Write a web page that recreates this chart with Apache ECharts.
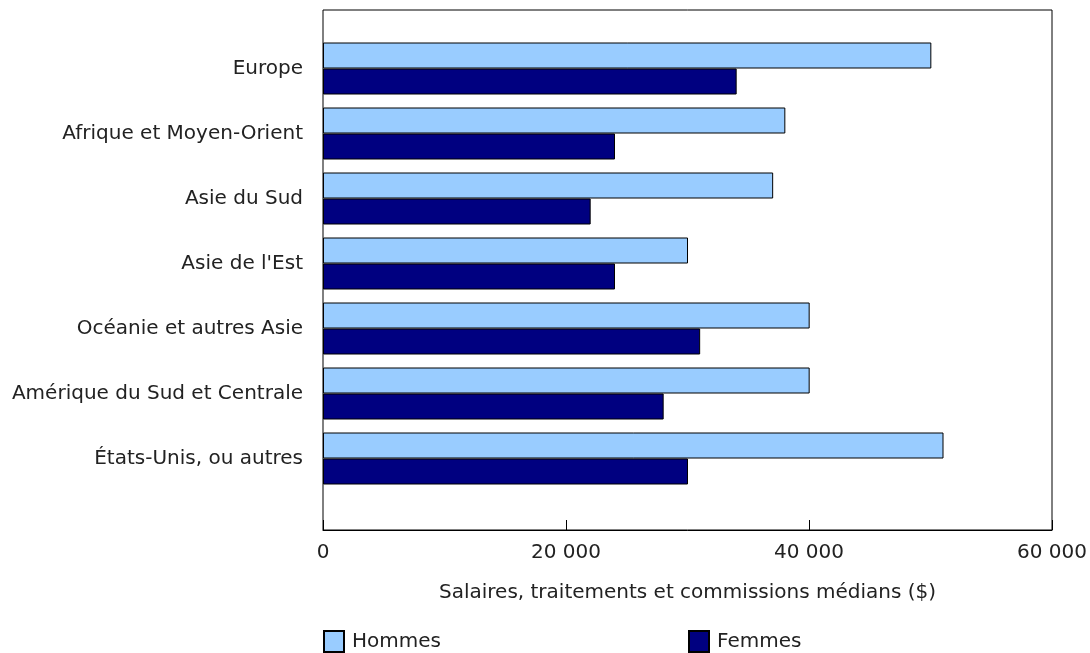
<!DOCTYPE html>
<html>
<head>
<meta charset="utf-8">
<script src="https://cdn.jsdelivr.net/npm/echarts@6/dist/echarts.min.js"></script>
<style>
    html, body { margin: 0; padding: 0; background: #fff; }
    #chart { width: 1090px; height: 653px; }
</style>
</head>
<body>
<div id="chart"></div>
<script>
const regions = ['Europe', 'Afrique et Moyen-Orient', 'Asie du Sud', "Asie de l'Est",
    'Océanie et autres Asie', 'Amérique du Sud et Centrale', 'États-Unis, ou autres']
const hommes = [50000, 38000, 37000, 30000, 40000, 40000, 51000]
const femmes = [34000, 24000, 22000, 24000, 31000, 28000, 30000]
const xTicks = [0, 20000, 40000, 60000]

const font = 'DejaVu Sans, Verdana, sans-serif'
const fmt = v => String(v).replace(/\B(?=(\d{3})+(?!\d))/g, ' ')
const txt = { fontSize: 20, color: '#222', fontFamily: font }
const legendTxt = { fontSize: 20, color: '#222', fontFamily: font, padding: [2, 0, 0, 3] }

let chart = echarts.init(document.getElementById('chart'))
chart.setOption({
    textStyle: { fontFamily: font },
    grid: [
        // frame + value axis
        { left: 323, right: 37, top: 10, height: 520, show: true, borderColor: '#000', borderWidth: 1 },
        // bars
        { left: 323, right: 37, top: 36, height: 455 }
    ],
    legend: [
        { data: ['Hommes'], left: 323, top: 630, padding: 0, icon: 'rect', itemWidth: 20, itemHeight: 21,
          itemGap: 0, textStyle: legendTxt },
        { data: ['Femmes'], left: 688, top: 630, padding: 0, icon: 'rect', itemWidth: 20, itemHeight: 21,
          itemGap: 0, textStyle: legendTxt }
    ],
    xAxis: [
        {
            gridIndex: 0, type: 'value', min: xTicks[0], max: xTicks[xTicks.length - 1], interval: 20000,
            name: 'Salaires, traitements et commissions médians ($)', nameLocation: 'middle', nameGap: 53,
            nameTextStyle: txt,
            axisLine: { show: true, lineStyle: { color: '#000', width: 1 } },
            axisTick: { show: true, inside: true, length: 10, lineStyle: { color: '#000' } },
            axisLabel: { fontSize: 20, color: '#222', margin: 13, formatter: fmt },
            splitLine: { show: false }
        },
        { gridIndex: 1, type: 'value', min: 0, max: 60000, show: false }
    ],
    yAxis: [
        { gridIndex: 0, type: 'value', min: 0, max: 1, show: false },
        {
            gridIndex: 1, type: 'category', data: regions, inverse: true,
            axisLine: { show: false }, axisTick: { show: false },
            axisLabel: { fontSize: 20, color: '#222', margin: 20, padding: [3, 0, 0, 0] }
        }
    ],
    series: [
        {
            name: 'Hommes', type: 'bar', xAxisIndex: 1, yAxisIndex: 1, data: hommes,
            barGap: '0%', barCategoryGap: '20%',
            itemStyle: { color: '#99ccff', borderColor: '#000', borderWidth: 1 }
        },
        {
            name: 'Femmes', type: 'bar', xAxisIndex: 1, yAxisIndex: 1, data: femmes,
            barGap: '0%', barCategoryGap: '20%',
            itemStyle: { color: '#000080', borderColor: '#000', borderWidth: 1 }
        }
    ]
})
</script>
</body>
</html>
